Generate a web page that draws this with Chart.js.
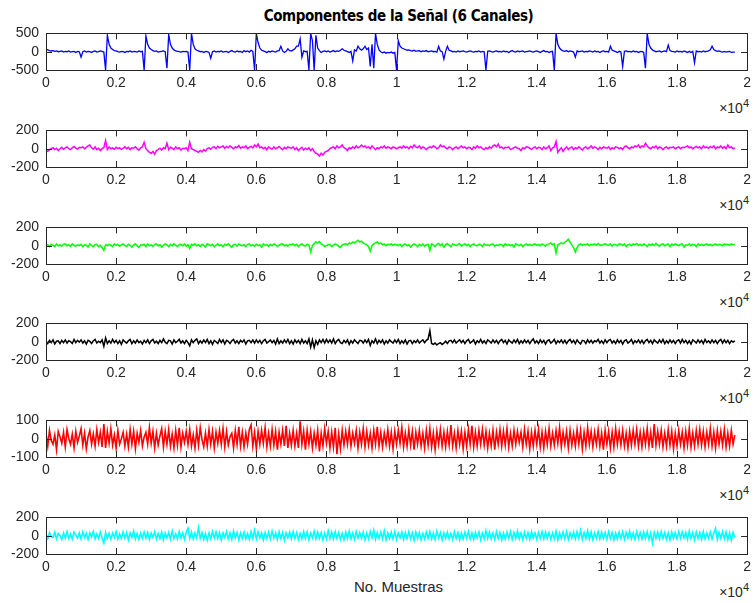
<!DOCTYPE html>
<html>
<head>
<meta charset="utf-8">
<script src="https://cdn.jsdelivr.net/npm/chart.js@4.4.1/dist/chart.umd.min.js"></script>
<style>
  body { margin: 0; background: #fff; }
  #fig { position: relative; width: 756px; height: 603px; overflow: hidden;
         font-family: "Liberation Sans", Arial, sans-serif; color: #262626; }
  #fig canvas { position: absolute; left: 0; }
  .titulo { position: absolute; left: 46px; width: 705px; top: 7px; text-align: center;
            font-family: "Liberation Sans Narrow", "DejaVu Sans Condensed", sans-serif;
            font-size: 15px; font-weight: bold; letter-spacing: -0.4px; color: #000; }
  .exp { position: absolute; right: 7px; font-size: 14px; }
  .exp sup { font-size: 11px; vertical-align: 6px; }
  .xlabel { position: absolute; left: 46px; width: 705px; top: 578px; text-align: center; font-size: 15px; }
</style>
</head>
<body>
<div id="fig">
  <div class="titulo">Componentes de la Señal (6 Canales)</div>
  <div class="xlabel">No. Muestras</div>
</div>
<script>
// un punto cada 50 muestras, cada fila = 1000 muestras (0 ... 19650)
const PASO = 50;

const canal1 = [
  70, 50, 30, 20, 30, 10, 20, 0, 10, 20, -10, 10, 0, 20, -10, 0, 10, -20, 10, 0,
  -150, 0, 20, -10, 10, 0, -20, 10, 20, -10, 0, 20, 10, -10, -500, 450, 200, 100, 60, 30,
  20, 0, -10, 10, 0, -20, 10, 0, 20, -10, 10, 0, -10, 20, 0, 10, -500, 430, 200, 100,
  60, 30, 10, 20, -10, 0, 10, 20, 0, -450, 470, 200, 100, 50, 20, 10, 0, -10, 10, 0,
  10, -10, -500, 500, 200, 80, 40, 20, 0, 10, -20, 10, 0, -20, -180, 0, 20, -10, 10, 0,
  20, -10, 0, 10, -20, 10, 30, 0, -10, 20, 0, 10, -20, 30, 0, 20, -10, 40, 10, -500,
  500, 250, 100, 40, 20, 0, -20, 10, -10, 20, 0, -10, 20, 30, 150, 20, -20, 10, 80, 30,
  20, 50, 80, 150, 150, 350, -150, 20, 0, 10, -500, 500, 300, -500, 450, 100, 30, -20, 10, 20,
  0, 20, -10, 10, 30, 0, 20, 10, 40, 80, 40, 20, 0, -20, 10, -250, 50, 20, 150, 80,
  40, 80, 150, 60, 100, -400, 200, -450, 500, 200, 50, 0, -30, -10, -40, -20, -30, -10, -40, -20,
  -500, 300, 150, 100, 80, 60, 40, 50, 30, 20, 40, 10, 20, 30, 0, 20, 10, 30, 0, 10,
  20, 0, 10, -10, 150, 20, 0, -200, 10, 150, 40, 20, 0, 10, -10, 20, 0, 10, 20, 0,
  -10, 10, 20, 0, -10, 10, 0, 20, -10, 10, 0, -500, 10, 20, 0, -10, 10, 20, 0, 10,
  -10, 20, 0, 10, -20, 10, 30, 0, -10, 20, 0, 10, 20, -10, 0, 10, 20, 0, -10, 10,
  20, 0, -20, 10, 30, 0, 10, -20, 0, 10, -500, 500, 200, 100, 50, 20, 10, 30, 0, 20,
  10, -10, -150, 20, 0, 10, 20, -10, 10, 0, 20, 10, -10, 20, 0, 10, -20, 10, 20, 0,
  10, -10, 150, 40, 20, 0, -20, 10, -10, -400, 10, 20, 0, 10, -10, 20, 0, 10, -20, 0,
  10, -20, -450, 500, 200, 100, 50, 20, 0, 10, 20, -10, 10, 20, 0, 180, 30, 10, 0, -10,
  20, 0, 10, -10, 20, 0, -20, 10, -20, 10, -300, 20, 0, 10, -10, 20, 0, 10, 20, 50,
  150, 60, 30, 10, 20, 0, -10, 10, -10, 0, 10, -20, -10, -10
];
const canal2 = [
  -20, -30, -10, 0, 10, -10, 5, -20, 0, 15, -5, 10, 20, 0, -10, 10, 25, 5, -5, 15,
  10, 20, 0, 15, 30, 40, 10, -5, 20, -10, 5, -20, 0, 10, 90, -10, 20, 0, 10, -5,
  15, 0, 10, -10, 5, 20, 0, 15, -10, 10, 5, 20, 0, -15, 10, 20, 70, 0, -20, -40,
  -50, -30, -60, -20, -10, 5, -15, 10, 0, 60, -10, 15, 5, -10, 20, 0, 10, -15, 5, 0,
  10, -20, 70, 0, -10, -20, -30, -40, -20, -35, -10, -25, 0, 10, -5, 15, 20, 0, 25, 10,
  20, 30, 5, 25, 10, 30, 15, 0, 20, 10, 35, 5, 20, 10, 30, 0, 15, 25, 10, 40,
  20, 50, 10, 20, 0, 15, -10, 20, 5, -5, 20, 0, 10, 25, 5, -10, 15, 0, 20, 10,
  5, 20, -10, 10, -20, 0, 15, -15, 5, -10, 10, -20, 0, -30, -50, -60, -80, -50, -70, -40,
  -30, -20, 0, 10, 20, 0, 30, 10, 20, 40, 10, 0, -20, 10, 0, 20, 5, 30, 10, 20,
  40, 20, 30, 10, 20, 0, 30, 10, -10, 10, 0, 20, 10, 30, 5, 20, 10, 0, 20, 10,
  0, 10, 20, 5, 30, 10, 20, 0, 25, 10, 40, 20, 10, 30, 0, 20, 10, -10, 10, 20,
  10, 30, 20, 0, 10, 40, 20, 30, 10, 0, 20, 10, -10, 10, 20, 0, 15, 30, 10, 20,
  0, 15, 10, -10, 20, 5, 30, 10, 20, 0, -10, 10, 0, 20, 5, 30, 40, 20, 50, 10,
  20, 0, 15, 10, 20, -10, 0, 10, 20, 5, 0, -20, 10, 0, 20, 15, 5, -10, 10, 20,
  0, 15, 10, -10, 20, 0, 10, 30, -20, 10, 20, 80, -40, -10, 10, -30, 0, 20, -10, 10,
  20, -10, 10, 0, 20, 5, -15, 10, 20, 0, 10, 30, 5, 20, 10, -10, 15, 0, 20, 10,
  5, 20, -10, 10, 0, 20, 15, 0, 10, -10, 20, 30, 10, 0, 20, 10, 30, 20, 40, 10,
  30, 20, 60, 30, 10, 0, 20, 10, 30, 0, 20, 10, -10, 10, 20, 0, 15, 10, 20, 0,
  10, 20, 0, 15, 10, 20, 30, 10, 20, 0, 15, 25, 10, 20, 0, 30, 10, 20, 5, 25,
  10, 30, 0, 20, 10, 30, 5, 20, 0, 40, 10, 20, 0, 10
];
const canal3 = [
  0, 10, -10, 15, 5, -10, 20, 0, 10, -5, 15, 20, 0, 10, -10, 20, 5, -5, 10, 0,
  15, -10, 10, 5, -15, 20, 0, -10, 10, 15, -10, 5, -20, -50, 10, 0, 15, 5, -10, 20,
  5, 15, -5, 10, 20, 0, -10, 15, 5, -15, 10, 20, 0, -20, 10, 5, 15, -10, 20, 0,
  10, -5, 15, 20, 0, 10, -15, 5, 20, 10, -10, 15, 0, 20, 5, -10, 10, 15, 0, 20,
  -5, 10, -30, 15, 5, 20, 0, 10, -10, 15, 5, -15, 20, 10, 0, 15, -10, 5, 20, 0,
  10, -10, 15, 5, 20, 0, -15, 10, 15, -5, 20, 5, 0, 10, -10, 15, 20, 0, 10, -5,
  15, 0, 10, -15, 20, 5, 10, -5, 15, 0, 20, 10, -10, 5, 15, 20, 0, 10, -5, 15,
  10, 20, 0, 15, -10, 10, 20, 5, -5, 15, 10, -70, 0, 20, 40, 30, 45, 20, 10, -10,
  0, 10, 15, -10, 5, 20, 10, -5, -20, 10, 15, 20, 10, 30, 20, 40, 30, 45, 60, 40,
  50, 30, 20, 10, -10, -60, 0, 20, 30, 40, 20, 30, 10, 20, 0, 15, 10, 20, 5, 15,
  10, 0, 15, -10, 10, 20, 0, 10, -15, 5, 20, 10, -10, 15, 0, 20, -5, 10, 15, -50,
  20, 10, -10, 15, 25, 0, 20, -15, 10, 25, 5, -10, 20, 10, 0, 15, 25, -5, 10, 20,
  0, 15, -10, 10, 20, 5, 0, 15, 10, -10, 20, 5, 10, 0, 15, 20, -5, 10, 0, 15,
  10, -10, 20, 5, 15, 0, 10, -15, 20, 10, 0, 15, -10, 10, 20, 5, 15, 0, 10, 20,
  5, 15, 0, 20, 10, -5, 15, 20, 30, 10, 20, -80, 10, 20, 30, 20, 40, 50, 70, 40,
  10, -20, -70, -20, 10, 20, 5, 15, 10, 20, 0, 15, 10, 20, 5, 25, 10, 0, 15, 20,
  10, 5, 20, -5, 15, 10, 0, 20, 15, 5, 20, -10, 10, 15, 0, 20, 10, 25, 5, 15,
  0, 20, 10, -10, 15, 5, 20, 0, 25, 10, -5, 15, 20, 0, 10, 20, -10, 15, 5, 20,
  10, 0, 15, 20, -15, 10, 5, 20, 0, 15, 10, -10, 20, 5, 15, 0, 10, 20, 5, 15,
  0, 10, 20, 5, 15, 10, 0, 20, 10, 15, 5, 20, 10, 15
];
const canal4 = [
  10, -20, 15, -10, 20, -25, 5, 10, -20, 15, -10, 20, -15, 10, 0, -20, 25, -10, 15, -5,
  20, -15, 10, -25, 15, 5, -20, 10, 25, -15, 5, -10, 20, -50, 40, -20, 10, -15, 25, -10,
  15, -20, 10, -30, 20, 0, -15, 10, 25, -20, 10, -15, 20, -10, 5, -25, 15, -10, 20, -20,
  10, 25, -15, 5, -20, 15, -10, 30, -5, -20, 15, 10, -25, 20, -10, 5, 25, -15, 10, -20,
  15, -10, -45, 20, -10, 15, 30, -20, 10, -15, 20, -10, 25, -20, 10, -30, 15, 0, -20, 25,
  -10, 20, -25, 15, 5, -20, 10, 25, -15, 10, -20, 15, -5, 20, -25, 10, 15, -10, 20, -15,
  20, -10, 15, -20, 10, 25, -15, 0, 20, -10, 15, -25, 30, -20, 10, -15, 20, -10, 25, -20,
  10, -25, 20, -10, 15, -20, 25, -15, 10, -20, 30, -60, 20, -65, 10, -30, 20, -10, 25, -15,
  25, -10, 20, -15, 30, -20, 10, 25, -10, -20, 15, -10, 20, -30, 10, -15, 20, 0, -20, 15,
  10, -15, 20, -10, 25, -40, 10, -15, 30, -20, 15, -10, 20, -25, 10, -15, 20, 0, -15, 20,
  -10, 25, -20, 10, -15, 20, -25, 10, 15, -20, 10, -10, 20, -15, 5, 20, -10, 15, 30, 120,
  -20, -30, -15, -35, -20, -10, -30, -15, 5, -20, 10, 15, -10, 20, -15, 5, 20, -10, 15, -20,
  10, 25, -15, 0, 20, -25, 10, -10, 25, -15, 10, -20, 20, 5, -15, 20, -10, 15, -20, 10,
  25, -10, 15, -25, 20, 0, -15, 20, -10, 25, -20, 10, -15, 20, -10, 15, -20, 10, 30, -15,
  10, -20, 20, -10, 15, -25, 10, 20, -15, 0, 25, -20, 10, -10, 20, -15, 15, -20, 10, 25,
  -10, 15, -20, 20, -5, -25, 15, 10, -20, 20, -10, 15, -15, 10, 0, 25, -15, 10, -20, 20,
  -10, 15, 25, -15, 10, -20, 20, -10, 15, -25, 10, 20, -15, 0, 25, -20, 10, -10, 20, -15,
  15, -20, 10, 25, -10, 15, -20, 20, 0, -15, 20, -10, 25, -20, 10, -15, 20, -10, 15, -20,
  10, 20, -15, 25, -10, 15, -20, 10, -25, 20, 5, -15, 20, -10, 15, -20, 25, -10, 10, -15,
  20, -10, 15, -20, 10, 25, -15, 20, -10, 15, -20, 10, -5, 10
];
const canal5 = [
  30, -40, 45, -10, -30, 20, -60, 40, 10, -25, 35, -45, 50, 0, -30, 25, -50, 40, -20, 15,
  55, -35, 30, -55, 10, 45, -30, 25, -40, 50, -20, 35, -45, 80, -50, 40, -25, 55, -35, 20,
  -50, 45, -30, 0, 35, -40, 25, -45, 50, -30, 40, -55, 30, -20, 45, -40, 10, 35, -30, 60,
  -25, 40, -50, 30, -35, 15, 55, -45, 40, -30, 50, -40, 25, -50, 45, -35, 60, -45, 30, -20,
  40, -30, 50, -40, 20, -50, 45, -35, 60, -5, -45, 30, -40, 50, -30, 40, -50, 35, -25, 45,
  -30, 55, -45, 40, -35, 10, 30, -50, 45, -30, 65, -40, 35, -45, 30, -30, 50, 75, -40, 35,
  -55, 40, -30, 45, -25, 60, -45, 30, -40, 50, -35, 40, -60, 35, -30, 45, -40, 70, -50, 30,
  -35, 45, -40, 30, -50, 95, -30, 40, -60, 45, -30, 40, -50, 30, -35, 45, -70, 30, -40, 55,
  -25, 40, -50, 35, -45, 60, -85, 25, -55, 45, -35, 40, -30, 50, -40, 30, -25, 45, -50, 35,
  -30, 55, -45, 40, -35, 30, -50, 45, -30, 65, -40, 35, -45, 30, -30, 50, -40, 35, -55, 40,
  -30, 45, -25, 60, -45, 30, -40, 50, -35, 40, -60, 35, -30, 45, -40, 30, -50, 45, -35, 55,
  -45, 30, -60, 40, -30, 50, -40, 35, -45, 40, -35, 75, -40, 30, -50, 45, -30, 40, -55, 35,
  -40, 50, -30, 70, -45, 35, -40, 45, -30, 50, -35, 40, -50, 30, -40, 45, -60, 35, -30, 50,
  -40, 40, -35, 55, -45, 30, -40, 45, -30, 40, -20, 35, -45, 50, -30, 40, -55, 35, -40, 45,
  -30, 50, -45, 35, -50, 40, -30, 55, -40, 30, -35, 45, -25, 60, -45, 35, -30, 40, -50, 45,
  -35, 30, -40, 50, -30, 45, -55, 35, -40, 60, -30, 40, -45, 35, -30, 50, -40, 30, -60, 45,
  -30, 40, -50, 35, -45, 55, -30, 40, -35, 45, -40, 30, -50, 40, -35, 45, -30, 50, -40, 35,
  -45, 40, -30, 55, -40, 35, -50, 80, -35, 40, -30, 45, -45, 30, -40, 50, -35, 40, -55, 30,
  -40, 45, -30, 35, -50, 40, -35, 55, -45, 30, -40, 45, -30, 50, -35, 40, -45, 35, -30, 55,
  -40, 35, -50, 45, -30, 40, -35, 50, -45, 30, -40, 45, -30, 20
];
const canal6 = [
  20, -30, 35, -10, -20, 40, -35, 25, 0, -40, 30, -25, 45, -30, 20, -35, 40, 10, -25, 30,
  -35, 40, -20, 25, -40, 30, -15, 45, -35, 20, -30, 40, -25, -80, 35, -30, 25, -40, 30, -20,
  45, -35, 20, -30, 40, -25, 35, -45, 30, -20, 50, -35, 25, -40, 30, -30, 40, -25, 35, -40,
  30, -20, 45, -35, 25, -30, 40, -45, 30, -25, 35, -40, 50, -30, 20, -35, 45, -25, 30, -40,
  35, 80, -30, 40, -35, 30, -25, 90, -30, 35, -40, 25, -50, 30, -35, 45, -25, 40, -30, 35,
  -45, 30, -20, 45, -35, 30, -40, 50, -25, 35, -45, 30, -30, 40, -35, 25, -40, 45, -30, 60,
  -35, 40, -25, 30, -45, 35, -30, 40, -35, 50, -25, 30, -40, 45, -30, 35, -50, 30, -25, 40,
  -35, 45, -30, 35, -40, 25, -35, 45, -30, 40, -45, 30, -25, 50, -35, 40, -30, 35, -45, 30,
  -35, 55, -30, 40, -35, 45, -30, 35, -40, 25, -45, 40, -30, 50, -35, 30, -40, 45, -25, 35,
  -30, 40, -45, 30, -35, 45, -25, 60, -40, 35, -30, 40, -35, 55, -45, 30, -30, 40, -35, 45,
  -40, 30, -25, 40, -40, 35, -30, 45, -35, 30, -50, 40, -30, 35, -45, 25, -35, 40, -30, 45,
  -35, 30, -40, 50, -25, 35, -45, 30, -30, 40, -35, 25, -40, 45, -30, 35, -45, 30, -35, 40,
  -30, 45, -35, 30, -40, 35, -25, 40, -45, 30, -35, 55, -30, 40, -35, 30, -40, 45, -30, 35,
  -45, 30, -35, 40, -30, 45, -40, 35, -30, 50, -35, 30, -45, 40, -30, 35, -40, 45, -25, 30,
  -40, 35, -30, 45, -35, 40, -30, 35, -40, 30, -35, 50, -45, 30, -30, 40, -35, 45, -40, 30,
  -25, 40, -35, 45, -30, 60, -40, 35, -30, 55, -35, 40, -45, 30, -30, 45, -35, 40, -30, 35,
  -40, 45, -30, 35, -45, 30, -35, 40, -30, 45, -40, 35, -25, 50, -35, 30, -40, 45, -30, 35,
  -35, 40, -30, 45, -40, 30, -80, 35, -30, 40, -35, 45, -30, 35, -40, 30, -45, 40, -30, 35,
  -35, 45, -30, 40, -25, 35, -40, 50, -30, 35, -45, 40, -30, 35, -40, 45, -35, 30, -30, 40,
  -35, 30, 80, -40, 35, -30, 45, -35, 40, -45, 30, -50, 35, -20
];

const canales = [canal1, canal2, canal3, canal4, canal5, canal6];
const colores = ['#0000ff', '#ff00ff', '#00ff00', '#000000', '#ff0000', '#00ffff'];
const grosores = [1.3, 1.5, 1.5, 1.5, 1.6, 1.6];
const limitesY = [500, 200, 200, 200, 100, 200];
const xMax = 20000;

const topes = [30, 127, 224, 320, 417, 514];
const ALTO = 40;
const MARGEN_SUP = 12;
const ALTO_EJE_X = 26;

Chart.defaults.font.family = '"Liberation Sans", Arial, sans-serif';
Chart.defaults.font.size = 14;
Chart.defaults.color = '#262626';

// caja y marcas hacia dentro, estilo MATLAB
const cajaPlugin = {
  id: 'caja',
  afterDraw(chart) {
    const { ctx, chartArea: a, scales } = chart;
    const L = 6;
    ctx.save();
    ctx.strokeStyle = '#262626';
    ctx.lineWidth = 1;
    ctx.beginPath();
    scales.x.ticks.forEach(t => {
      const px = Math.round(scales.x.getPixelForValue(t.value)) + 0.5;
      ctx.moveTo(px, a.top); ctx.lineTo(px, a.top + L);
      ctx.moveTo(px, a.bottom); ctx.lineTo(px, a.bottom - L);
    });
    scales.y.ticks.forEach(t => {
      const py = Math.round(scales.y.getPixelForValue(t.value)) + 0.5;
      ctx.moveTo(a.left, py); ctx.lineTo(a.left + L, py);
      ctx.moveTo(a.right, py); ctx.lineTo(a.right - L, py);
    });
    ctx.stroke();
    ctx.strokeRect(Math.round(a.left) + 0.5, Math.round(a.top) + 0.5,
                   Math.round(a.right - a.left), Math.round(a.bottom - a.top));
    ctx.restore();
  }
};

const fig = document.getElementById('fig');

canales.forEach((serie, k) => {
  const cv = document.createElement('canvas');
  const h = MARGEN_SUP + ALTO + ALTO_EJE_X;
  cv.width = 756; cv.height = h;
  cv.style.top = (topes[k] - MARGEN_SUP) + 'px';
  fig.appendChild(cv);

  const exp = document.createElement('div');
  exp.className = 'exp';
  exp.style.top = (topes[k] + ALTO + 27) + 'px';
  exp.innerHTML = '×10<sup>4</sup>';
  fig.appendChild(exp);

  const lim = limitesY[k];
  new Chart(cv, {
    type: 'line',
    data: {
      datasets: [{
        data: serie.map((v, i) => ({ x: i * PASO, y: v })),
        borderColor: colores[k],
        borderWidth: grosores[k],
        pointRadius: 0,
        tension: 0
      }]
    },
    options: {
      responsive: false,
      animation: false,
      devicePixelRatio: 1,
      layout: { padding: { top: MARGEN_SUP, right: 5, left: 0, bottom: 0 } },
      plugins: { legend: { display: false }, tooltip: { enabled: false } },
      scales: {
        x: {
          type: 'linear', min: 0, max: xMax,
          grid: { display: false, drawTicks: false },
          border: { display: false },
          ticks: {
            stepSize: 2000, padding: 5, maxRotation: 0, autoSkip: false,
            callback: v => String(+(v / 10000).toFixed(1))
          },
          afterFit: s => { s.height = ALTO_EJE_X; }
        },
        y: {
          min: -lim, max: lim,
          grid: { display: false, drawTicks: false },
          border: { display: false },
          ticks: { stepSize: lim, padding: 7, autoSkip: false },
          afterFit: s => { s.width = 46; }
        }
      }
    },
    plugins: [cajaPlugin]
  });
});
</script>
</body>
</html>
